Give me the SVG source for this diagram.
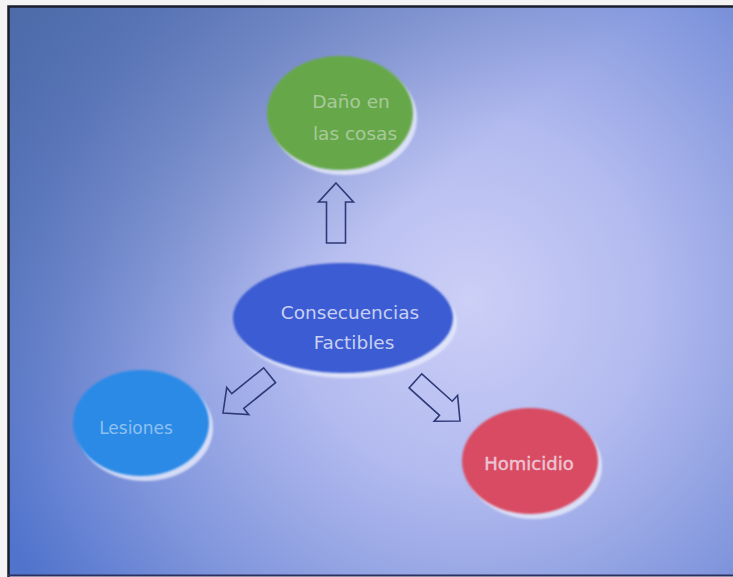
<svg xmlns="http://www.w3.org/2000/svg" width="733" height="577" viewBox="0 0 733 577">
<defs>
<radialGradient id="bg" cx="470" cy="300" r="520" gradientUnits="userSpaceOnUse">
<stop offset="0" stop-color="#cccff6"/>
<stop offset="0.35" stop-color="#b2baef"/>
<stop offset="0.7" stop-color="#8196dc"/>
<stop offset="1" stop-color="#5073cc"/>
</radialGradient>
<linearGradient id="tl" x1="0" y1="0" x2="1" y2="1">
<stop offset="0" stop-color="#4e6aa2" stop-opacity="0.85"/>
<stop offset="0.45" stop-color="#4e6aa2" stop-opacity="0"/>
</linearGradient>
<filter id="soft" x="-10%" y="-10%" width="120%" height="120%"><feGaussianBlur stdDeviation="0.9"/></filter>
<path id="arrow" d="M0,0 L17.5,19 L9.5,19 L9.5,60 L-9.5,60 L-9.5,19 L-17.5,19 Z"/>
</defs>
<style>
.rim{fill:#e4e8fb;opacity:0.85}
.lbl{font-family:"DejaVu Sans","Liberation Sans",sans-serif;text-anchor:middle}
.arr{fill:none;stroke:#2e3a78;stroke-width:1.6;stroke-linejoin:miter}
</style>
<rect x="0" y="0" width="733" height="577" fill="#f4f4f4"/>
<rect x="8" y="6" width="725" height="570" fill="url(#bg)"/>
<rect x="8" y="6" width="725" height="570" fill="url(#tl)"/>
<path d="M8.5,577 L8.5,6.5 L733,6.5" fill="none" stroke="#1a1e2a" stroke-width="2.5"/>
<line x1="8" y1="575.5" x2="733" y2="575.5" stroke="#2a3060" stroke-width="2"/>

<g id="connectors">
<use href="#arrow" class="arr" transform="translate(336,183)"/>
<use href="#arrow" class="arr" transform="translate(223,413) rotate(-129)"/>
<use href="#arrow" class="arr" transform="translate(460,421) rotate(132)"/>
</g>

<g id="node-dano">
<ellipse cx="344" cy="118" rx="73" ry="57" class="rim" filter="url(#soft)"/>
<ellipse cx="340" cy="113" rx="73" ry="57" fill="#66a84a" filter="url(#soft)"/>
<text class="lbl" x="351" y="108" font-size="18.5" fill="#a9c99c">Daño en</text>
<text class="lbl" x="355" y="140" font-size="18.5" fill="#a9c99c">las cosas</text>
</g>

<g id="node-consecuencias">
<ellipse cx="347" cy="323" rx="110" ry="55" class="rim" filter="url(#soft)"/>
<ellipse cx="343" cy="318" rx="110" ry="55" fill="#3b5cd2" filter="url(#soft)"/>
<text class="lbl" x="350" y="319" font-size="18.5" fill="#c9d0f2">Consecuencias</text>
<text class="lbl" x="354" y="349" font-size="18.5" fill="#c9d0f2">Factibles</text>
</g>

<g id="node-lesiones">
<ellipse cx="145" cy="428" rx="68" ry="53" class="rim" filter="url(#soft)"/>
<ellipse cx="141" cy="423" rx="68" ry="53" fill="#2b8ae6" filter="url(#soft)"/>
<text class="lbl" x="136" y="434" font-size="17" fill="#8fc0f0">Lesiones</text>
</g>

<g id="node-homicidio">
<ellipse cx="534" cy="466" rx="68" ry="53" class="rim" filter="url(#soft)"/>
<ellipse cx="530" cy="461" rx="68" ry="53" fill="#d84b62" filter="url(#soft)"/>
<text class="lbl" x="529" y="470" font-size="18" fill="#ecc3d2" stroke="#ecc3d2" stroke-width="0.5">Homicidio</text>
</g>
</svg>
